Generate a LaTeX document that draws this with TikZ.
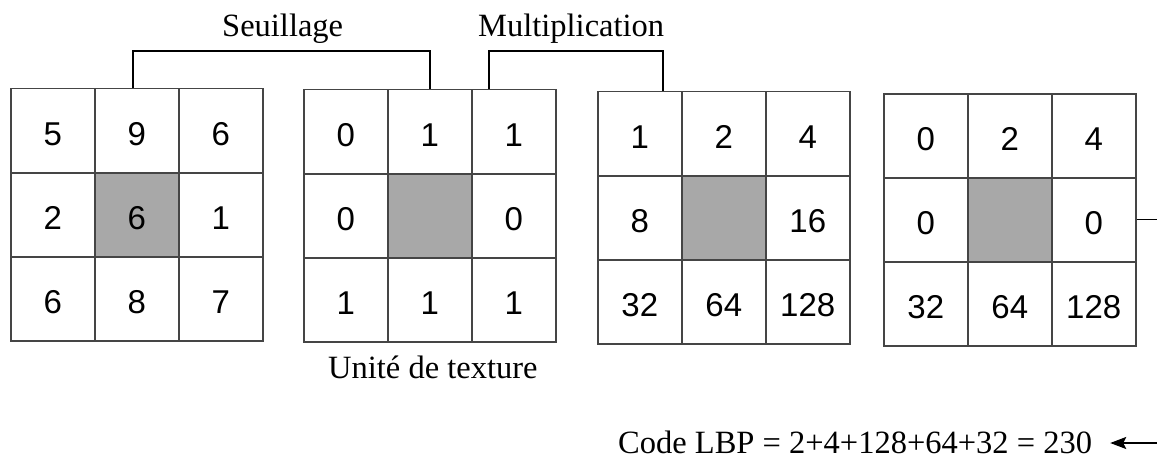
\documentclass[tikz,border=0pt]{standalone}
\usepackage{fontspec}
\setmainfont{Liberation Serif}
\newfontfamily\arialfont{Liberation Sans}
\usetikzlibrary{arrows.meta}
\definecolor{gridline}{HTML}{454545}
\definecolor{centre}{HTML}{A8A8A8}
\begin{document}
\begin{tikzpicture}[x=1pt,y=-1pt,
  cell/.style={draw=gridline, line width=1.5pt, minimum width=84pt, minimum height=84pt,
    inner sep=0pt, text height=29.6pt, text depth=0pt,
    font=\arialfont\fontsize{33}{33}\selectfont, anchor=north west},
  mid/.style={fill=centre},
  bracket/.style={draw=black, line width=1.7pt},
  lbl/.style={font=\fontsize{32.5}{32.5}\selectfont, inner sep=0pt, anchor=base west},
  arr/.style={draw=black, line width=1.7pt, -{Stealth[length=16pt,width=12pt,inset=3pt]}}]
\useasboundingbox (0,0) rectangle (1157,460);
% grid 1
\node[cell] (g1-11) at (10,88) {5};
\node[cell] (g1-12) at (94,88) {9};
\node[cell] (g1-13) at (178,88) {6};
\node[cell] (g1-21) at (10,172) {2};
\node[cell,mid] (g1-22) at (94,172) {6};
\node[cell] (g1-23) at (178,172) {1};
\node[cell] (g1-31) at (10,256) {6};
\node[cell] (g1-32) at (94,256) {8};
\node[cell] (g1-33) at (178,256) {7};
% grid 2
\node[cell] (g2-11) at (303,89) {0};
\node[cell] (g2-12) at (387,89) {1};
\node[cell] (g2-13) at (471,89) {1};
\node[cell] (g2-21) at (303,173) {0};
\node[cell,mid] (g2-22) at (387,173) {};
\node[cell] (g2-23) at (471,173) {0};
\node[cell] (g2-31) at (303,257) {1};
\node[cell] (g2-32) at (387,257) {1};
\node[cell] (g2-33) at (471,257) {1};
% grid 3
\node[cell] (g3-11) at (597,91) {1};
\node[cell] (g3-12) at (681,91) {2};
\node[cell] (g3-13) at (765,91) {4};
\node[cell] (g3-21) at (597,175) {8};
\node[cell,mid] (g3-22) at (681,175) {};
\node[cell] (g3-23) at (765,175) {16};
\node[cell] (g3-31) at (597,259) {32};
\node[cell] (g3-32) at (681,259) {64};
\node[cell] (g3-33) at (765,259) {128};
% grid 4
\node[cell] (g4-11) at (883,93) {0};
\node[cell] (g4-12) at (967,93) {2};
\node[cell] (g4-13) at (1051,93) {4};
\node[cell] (g4-21) at (883,177) {0};
\node[cell,mid] (g4-22) at (967,177) {};
\node[cell] (g4-23) at (1051,177) {0};
\node[cell] (g4-31) at (883,261) {32};
\node[cell] (g4-32) at (967,261) {64};
\node[cell] (g4-33) at (1051,261) {128};
% labels
\node[lbl] (seuil) at (222,37) {Seuillage};
\node[lbl] (multi) at (478,37) {Multiplication};
\node[lbl] (unite) at (328,378) {Unité de texture};
\node[lbl] (code) at (618,453) {Code LBP = 2+4+128+64+32 = 230};
% brackets
\draw[bracket] ([xshift=-4pt]g1-12.north) -- ++(0,-37) -| (g2-12.north);
\draw[bracket] ([xshift=-25pt]g2-13.north) -- ++(0,-38) -| ([xshift=23pt]g3-11.north);
% right connectors
\coordinate (rl) at (1157,218);
\coordinate (ra) at (1157,443);
\draw[bracket, line width=1.4pt] (g4-23.east) -- (g4-23.east -| rl);
\path (ra -| code.east) coordinate (ce);
\draw[arr] (ra) -- ([xshift=18pt]ce);
\end{tikzpicture}
\end{document}
